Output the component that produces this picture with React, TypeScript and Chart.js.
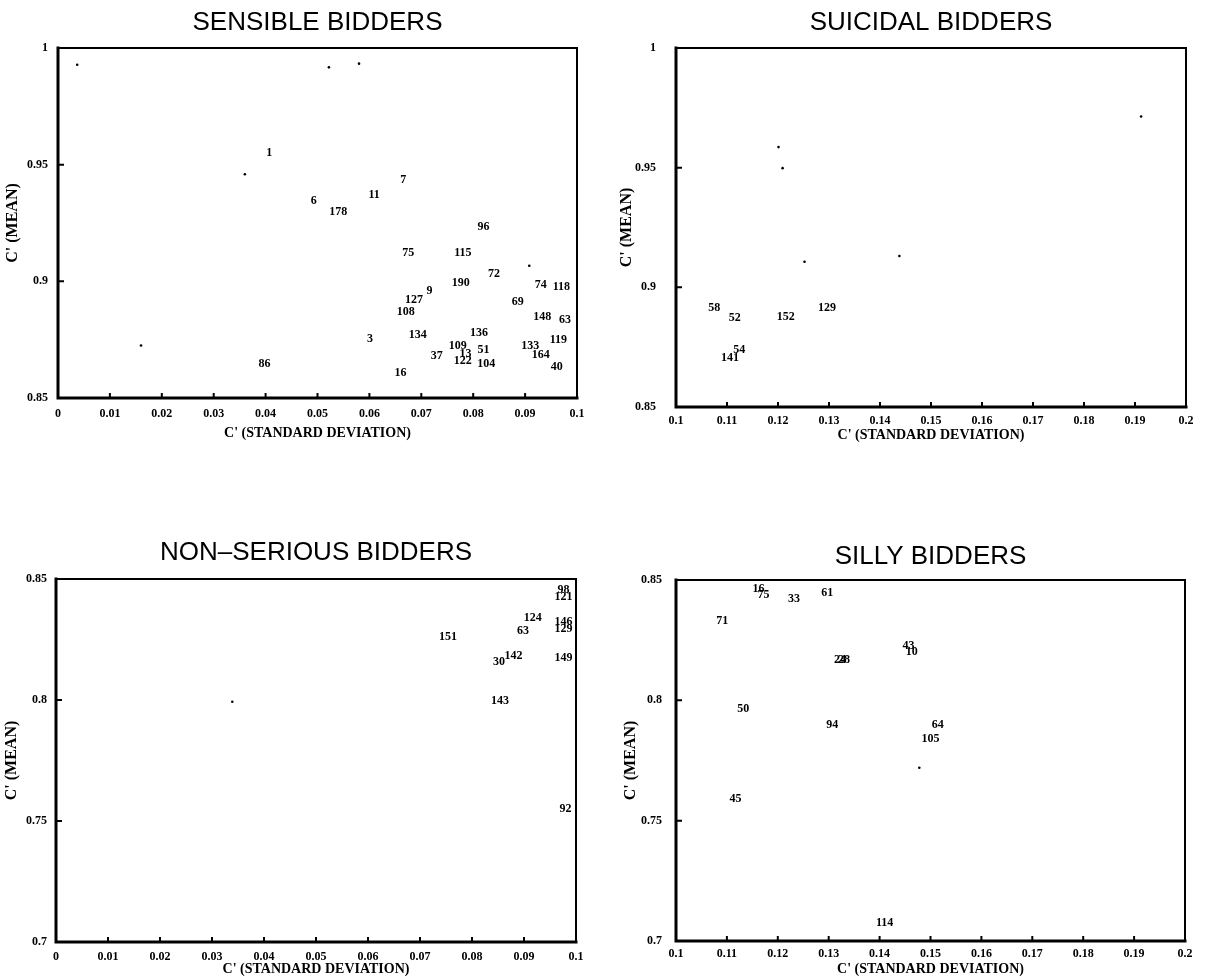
import React, { useEffect, useRef } from "react";
import { Chart, registerables } from "chart.js";

Chart.register(...registerables);

// ---- Sensible bidders ----
const sensibleIds = ["1", "7", "6", "11", "178", "96", "75", "115", "72", "190", "74", "118", "9", "127", "108", "69", "148", "63", "3", "134", "136", "109", "51", "133", "119", "37", "13", "122", "104", "164", "40", "86", "16"];
const sensibleSD = [0.0407, 0.0665, 0.0493, 0.0609, 0.054, 0.082, 0.0675, 0.078, 0.084, 0.0776, 0.093, 0.097, 0.0716, 0.0686, 0.067, 0.0886, 0.0933, 0.0977, 0.0601, 0.0693, 0.0811, 0.077, 0.082, 0.091, 0.0964, 0.073, 0.0785, 0.078, 0.0825, 0.093, 0.0961, 0.0398, 0.066];
const sensibleMean = [0.955, 0.9434, 0.9345, 0.937, 0.9297, 0.9235, 0.9121, 0.9121, 0.903, 0.8995, 0.8985, 0.8976, 0.8958, 0.8922, 0.8871, 0.8911, 0.8849, 0.8836, 0.8753, 0.8772, 0.8777, 0.8725, 0.8706, 0.8725, 0.8747, 0.868, 0.869, 0.8657, 0.8645, 0.8684, 0.8632, 0.8645, 0.8607];
const sensibleDotSD = [0.0037, 0.0522, 0.058, 0.036, 0.016, 0.0908];
const sensibleDotMean = [0.9928, 0.9917, 0.9933, 0.9459, 0.8725, 0.9067];

// ---- Suicidal bidders ----
const suicidalIds = ["58", "52", "152", "129", "141", "54"];
const suicidalSD = [0.1075, 0.1115, 0.1215, 0.1296, 0.1106, 0.1124];
const suicidalMean = [0.8912, 0.8874, 0.8877, 0.8916, 0.8706, 0.8737];
const suicidalDotSD = [0.1201, 0.1209, 0.1252, 0.1438, 0.1912];
const suicidalDotMean = [0.9586, 0.9498, 0.9107, 0.9131, 0.9714];

// ---- Non-serious bidders ----
const nonSeriousIds = ["98", "121", "124", "63", "146", "129", "151", "142", "30", "149", "143", "92"];
const nonSeriousSD = [0.0976, 0.0976, 0.0917, 0.0898, 0.0976, 0.0976, 0.0754, 0.088, 0.0852, 0.0976, 0.0854, 0.098];
const nonSeriousMean = [0.8453, 0.8428, 0.8338, 0.8285, 0.8322, 0.8292, 0.826, 0.8182, 0.8158, 0.8175, 0.7996, 0.7548];
const nonSeriousDotSD = [0.0339];
const nonSeriousDotMean = [0.7993];

// ---- Silly bidders ----
const sillyIds = ["16", "75", "33", "61", "71", "43", "10", "24", "28", "50", "94", "64", "105", "45", "114"];
const sillySD = [0.1162, 0.1172, 0.1232, 0.1297, 0.1091, 0.1457, 0.1463, 0.1322, 0.133, 0.1132, 0.1307, 0.1514, 0.15, 0.1117, 0.141];
const sillyMean = [0.8462, 0.8437, 0.8421, 0.8448, 0.833, 0.8228, 0.82, 0.817, 0.8167, 0.7964, 0.7898, 0.7898, 0.7838, 0.7592, 0.7076];
const sillyDotSD = [0.1478];
const sillyDotMean = [0.772];

// ---- Axis ticks ----
const sdTicksLow = [0, 0.01, 0.02, 0.03, 0.04, 0.05, 0.06, 0.07, 0.08, 0.09, 0.1];
const sdTickLabelsLow = ["0", "0.01", "0.02", "0.03", "0.04", "0.05", "0.06", "0.07", "0.08", "0.09", "0.1"];
const sdTicksHigh = [0.1, 0.11, 0.12, 0.13, 0.14, 0.15, 0.16, 0.17, 0.18, 0.19, 0.2];
const sdTickLabelsHigh = ["0.1", "0.11", "0.12", "0.13", "0.14", "0.15", "0.16", "0.17", "0.18", "0.19", "0.2"];
const meanTicksHigh = [0.85, 0.9, 0.95, 1];
const meanTickLabelsHigh = ["0.85", "0.9", "0.95", "1"];
const meanTicksLow = [0.7, 0.75, 0.8, 0.85];
const meanTickLabelsLow = ["0.7", "0.75", "0.8", "0.85"];

const SERIF = '"Liberation Serif", "DejaVu Serif", serif';
const SANS = '"Liberation Sans", Arial, sans-serif';

type Panel = {
  title: string;
  ids: string[];
  sd: number[];
  mean: number[];
  dotSD: number[];
  dotMean: number[];
  xTicks: number[];
  xLabels: string[];
  yTicks: number[];
  yLabels: string[];
  left: number;
  top: number;
  w: number;
  h: number;
  yAxisW: number;
  xAxisH: number;
  padR: number;
  titlePadT: number;
  titlePadB: number;
  xTickPad: number;
  yTickPad: number;
  xTitlePadB: number;
  yTitlePad: number;
};

const panels: Panel[] = [
  {
    title: "SENSIBLE BIDDERS",
    ids: sensibleIds, sd: sensibleSD, mean: sensibleMean,
    dotSD: sensibleDotSD, dotMean: sensibleDotMean,
    xTicks: sdTicksLow, xLabels: sdTickLabelsLow,
    yTicks: meanTicksHigh, yLabels: meanTickLabelsHigh,
    left: 0, top: 0, w: 600, h: 450,
    yAxisW: 58, xAxisH: 52, padR: 23,
    titlePadT: 9, titlePadB: 11,
    xTickPad: 9, yTickPad: 10, xTitlePadB: 8, yTitlePad: 3,
  },
  {
    title: "SUICIDAL BIDDERS",
    ids: suicidalIds, sd: suicidalSD, mean: suicidalMean,
    dotSD: suicidalDotSD, dotMean: suicidalDotMean,
    xTicks: sdTicksHigh, xLabels: sdTickLabelsHigh,
    yTicks: meanTicksHigh, yLabels: meanTickLabelsHigh,
    left: 600, top: 0, w: 613, h: 450,
    yAxisW: 76, xAxisH: 43, padR: 27,
    titlePadT: 9, titlePadB: 11,
    xTickPad: 7, yTickPad: 20, xTitlePadB: 6, yTitlePad: 17,
  },
  {
    title: "NON\u2013SERIOUS BIDDERS",
    ids: nonSeriousIds, sd: nonSeriousSD, mean: nonSeriousMean,
    dotSD: nonSeriousDotSD, dotMean: nonSeriousDotMean,
    xTicks: sdTicksLow, xLabels: sdTickLabelsLow,
    yTicks: meanTicksLow, yLabels: meanTickLabelsLow,
    left: 0, top: 500, w: 600, h: 479,
    yAxisW: 56, xAxisH: 37, padR: 24,
    titlePadT: 39, titlePadB: 12,
    xTickPad: 8, yTickPad: 9, xTitlePadB: 1, yTitlePad: 2,
  },
  {
    title: "SILLY BIDDERS",
    ids: sillyIds, sd: sillySD, mean: sillyMean,
    dotSD: sillyDotSD, dotMean: sillyDotMean,
    xTicks: sdTicksHigh, xLabels: sdTickLabelsHigh,
    yTicks: meanTicksLow, yLabels: meanTickLabelsLow,
    left: 600, top: 500, w: 613, h: 479,
    yAxisW: 76, xAxisH: 38, padR: 28,
    titlePadT: 43, titlePadB: 9,
    xTickPad: 6, yTickPad: 14, xTitlePadB: 1, yTitlePad: 21,
  },
];

function BidderPanel({ p }: { p: Panel }) {
  const ref = useRef<HTMLCanvasElement | null>(null);

  useEffect(() => {
    if (!ref.current) return;

    // Bidder numbers written at each point's position
    const idLabels = {
      id: "idLabels",
      afterDatasetsDraw(chart: any) {
        const ctx = chart.ctx;
        const meta = chart.getDatasetMeta(0);
        ctx.save();
        ctx.fillStyle = "#000";
        ctx.font = `bold 12px ${SERIF}`;
        ctx.textAlign = "center";
        ctx.textBaseline = "middle";
        meta.data.forEach((el: any, i: number) => {
          ctx.fillText(p.ids[i], el.x, el.y);
        });
        ctx.restore();
      },
    };

    // Plot frame with inward tick marks
    const frame = {
      id: "frame",
      afterDraw(chart: any) {
        const { ctx, chartArea } = chart;
        const { left, right, top, bottom } = chartArea;
        const xs = chart.scales.x;
        const ys = chart.scales.y;
        ctx.save();
        ctx.strokeStyle = "#000";
        ctx.lineCap = "square";
        ctx.lineWidth = 2;
        ctx.beginPath();
        ctx.moveTo(left, top);
        ctx.lineTo(right, top);
        ctx.lineTo(right, bottom);
        ctx.stroke();
        ctx.lineWidth = 3;
        ctx.beginPath();
        ctx.moveTo(left, top);
        ctx.lineTo(left, bottom);
        ctx.lineTo(right, bottom);
        ctx.stroke();
        ctx.lineWidth = 2;
        ctx.lineCap = "butt";
        ctx.beginPath();
        p.xTicks.forEach((v) => {
          const px = xs.getPixelForValue(v);
          ctx.moveTo(px, bottom);
          ctx.lineTo(px, bottom - 5);
        });
        p.yTicks.forEach((v) => {
          const py = ys.getPixelForValue(v);
          ctx.moveTo(left, py);
          ctx.lineTo(left + 6, py);
        });
        ctx.stroke();
        ctx.restore();
      },
    };

    const chart = new Chart(ref.current, {
      type: "scatter",
      data: {
        datasets: [
          {
            data: p.ids.map((_, i) => ({ x: p.sd[i], y: p.mean[i] })),
            pointRadius: 0,
            pointHoverRadius: 0,
          },
          {
            data: p.dotSD.map((v, i) => ({ x: v, y: p.dotMean[i] })),
            pointRadius: 1.3,
            pointHoverRadius: 1.3,
            backgroundColor: "#000",
            borderWidth: 0,
          },
        ],
      },
      options: {
        responsive: false,
        animation: false,
        events: [],
        layout: { padding: { left: 0, right: p.padR, top: 0, bottom: 0 } },
        plugins: {
          legend: { display: false },
          tooltip: { enabled: false },
          title: {
            display: true,
            text: p.title,
            color: "#000",
            fullSize: false,
            font: { family: SANS, size: 26, weight: "normal", lineHeight: "28px" },
            padding: { top: p.titlePadT, bottom: p.titlePadB },
          },
        },
        scales: {
          x: {
            type: "linear",
            min: p.xTicks[0],
            max: p.xTicks[p.xTicks.length - 1],
            grid: { display: false, drawTicks: false },
            border: { display: false },
            afterBuildTicks: (s: any) => {
              s.ticks = p.xTicks.map((v) => ({ value: v }));
            },
            afterFit: (s: any) => {
              s.height = p.xAxisH;
            },
            ticks: {
              color: "#000",
              padding: p.xTickPad,
              maxRotation: 0,
              autoSkip: false,
              font: { family: SERIF, size: 12, weight: "bold" },
              callback: (_v: any, i: number) => p.xLabels[i],
            },
            title: {
              display: true,
              text: "C' (STANDARD DEVIATION)",
              color: "#000",
              font: { family: SERIF, size: 14, weight: "bold", lineHeight: 1.2 },
              padding: { top: 0, bottom: p.xTitlePadB },
            },
          },
          y: {
            type: "linear",
            min: p.yTicks[0],
            max: p.yTicks[p.yTicks.length - 1],
            grid: { display: false, drawTicks: false },
            border: { display: false },
            afterBuildTicks: (s: any) => {
              s.ticks = p.yTicks.map((v) => ({ value: v }));
            },
            afterFit: (s: any) => {
              s.width = p.yAxisW;
            },
            ticks: {
              color: "#000",
              padding: p.yTickPad,
              autoSkip: false,
              font: { family: SERIF, size: 12, weight: "bold" },
              callback: (_v: any, i: number) => p.yLabels[i],
            },
            title: {
              display: true,
              text: "C' (MEAN)",
              color: "#000",
              font: { family: SERIF, size: 16, weight: "bold", lineHeight: 1.2 },
              padding: { top: p.yTitlePad, bottom: 0 },
            },
          },
        },
      } as any,
      plugins: [idLabels, frame],
    });

    return () => chart.destroy();
  }, [p]);

  return (
    <canvas
      ref={ref}
      width={p.w}
      height={p.h}
      style={{ position: "absolute", left: p.left, top: p.top, width: p.w, height: p.h }}
    />
  );
}

export default function App() {
  return (
    <div style={{ position: "absolute", left: 0, top: 0, width: 1213, height: 979, background: "#fff" }}>
      {panels.map((p) => (
        <BidderPanel key={p.title} p={p} />
      ))}
    </div>
  );
}
